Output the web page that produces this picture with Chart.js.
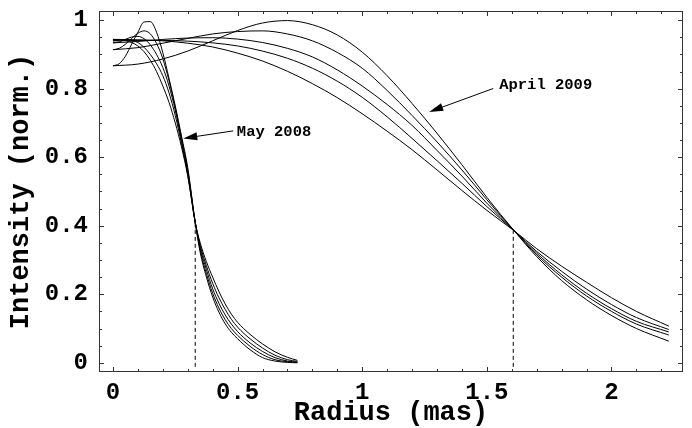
<!DOCTYPE html>
<html>
<head>
<meta charset="utf-8">
<script src="https://cdn.jsdelivr.net/npm/chart.js@4.4.1/dist/chart.umd.min.js"></script>
<style>
    html, body { margin: 0; padding: 0; background: #fff; }
    canvas { display: block; }
</style>
</head>
<body>
<canvas id="profiles" width="692" height="428"></canvas>
<script>
// Radius samples (mas) for the two epochs
const MAY08_R = [0, 0.025, 0.05, 0.075, 0.1, 0.125, 0.15, 0.175, 0.2, 0.225, 0.25, 0.275, 0.3,
    0.33, 0.35, 0.375, 0.4, 0.425, 0.45, 0.475, 0.5, 0.55, 0.6, 0.65, 0.7, 0.74];
const APR09_R = [0, 0.1, 0.2, 0.3, 0.4, 0.5, 0.6, 0.7, 0.8, 0.9, 1.0, 1.1, 1.2, 1.3, 1.4, 1.5,
    1.61, 1.7, 1.8, 1.9, 2.0, 2.1, 2.23];

// May 2008 intensity profiles
const MAY08_1 = [0.867, 0.873, 0.895, 0.930, 0.965, 0.995, 0.996, 0.965, 0.905, 0.830, 0.750, 0.662, 0.570,
    0.410, 0.322, 0.250, 0.192, 0.148, 0.114, 0.089, 0.070, 0.038, 0.015, 0.005, 0.001, 0.000];
const MAY08_2 = [0.914, 0.918, 0.930, 0.947, 0.962, 0.969, 0.960, 0.932, 0.888, 0.823, 0.745, 0.655, 0.562,
    0.410, 0.329, 0.260, 0.203, 0.160, 0.126, 0.100, 0.080, 0.048, 0.024, 0.009, 0.003, 0.001];
const MAY08_3 = [0.934, 0.937, 0.944, 0.951, 0.953, 0.946, 0.928, 0.900, 0.862, 0.808, 0.737, 0.648, 0.556,
    0.410, 0.336, 0.272, 0.216, 0.174, 0.140, 0.113, 0.091, 0.058, 0.033, 0.015, 0.005, 0.002];
const MAY08_4 = [0.940, 0.942, 0.944, 0.942, 0.935, 0.921, 0.900, 0.873, 0.838, 0.788, 0.722, 0.640, 0.550,
    0.410, 0.343, 0.283, 0.232, 0.190, 0.156, 0.127, 0.104, 0.070, 0.043, 0.022, 0.009, 0.004];
const MAY08_5 = [0.944, 0.944, 0.941, 0.935, 0.925, 0.908, 0.883, 0.850, 0.808, 0.760, 0.700, 0.630, 0.545,
    0.410, 0.350, 0.295, 0.250, 0.208, 0.172, 0.142, 0.118, 0.083, 0.055, 0.032, 0.016, 0.007];

// April 2009 intensity profiles
const APR09_1 = [0.867, 0.872, 0.887, 0.910, 0.940, 0.970, 0.992, 0.999, 0.987, 0.957, 0.907, 0.838,
    0.757, 0.670, 0.578, 0.483, 0.385, 0.310, 0.240, 0.184, 0.138, 0.100, 0.063];
const APR09_2 = [0.914, 0.920, 0.933, 0.947, 0.960, 0.967, 0.969, 0.960, 0.940, 0.906, 0.860, 0.795,
    0.722, 0.645, 0.563, 0.476, 0.385, 0.315, 0.250, 0.195, 0.150, 0.113, 0.081];
const APR09_3 = [0.934, 0.938, 0.944, 0.948, 0.949, 0.945, 0.935, 0.918, 0.893, 0.855, 0.808, 0.754,
    0.693, 0.620, 0.545, 0.466, 0.385, 0.320, 0.257, 0.203, 0.158, 0.121, 0.090];
const APR09_4 = [0.940, 0.941, 0.941, 0.939, 0.934, 0.925, 0.910, 0.889, 0.860, 0.822, 0.775, 0.718,
    0.655, 0.590, 0.524, 0.456, 0.385, 0.325, 0.267, 0.215, 0.170, 0.132, 0.097];
const APR09_5 = [0.944, 0.943, 0.940, 0.933, 0.922, 0.904, 0.881, 0.851, 0.815, 0.774, 0.727, 0.676,
    0.622, 0.563, 0.503, 0.445, 0.385, 0.333, 0.282, 0.235, 0.190, 0.150, 0.107];

// Where each family crosses (dashed markers)
const CROSS_R = [0.33, 1.606];
const CROSS_I = [0.41, 0.387];

const X_TICKS = [0, 0.5, 1, 1.5, 2];
const X_TICK_LABELS = ['0', '0.5', '1', '1.5', '2'];
const Y_TICKS = [0, 0.2, 0.4, 0.6, 0.8, 1];
const Y_TICK_LABELS = ['0', '0.2', '0.4', '0.6', '0.8', '1'];

const MONO = '"Liberation Mono", "Courier New", monospace';

function series(xs, ys) {
    return xs.map((x, i) => ({x: x, y: ys[i]}));
}

function curve(xs, ys) {
    return {
        data: series(xs, ys),
        borderColor: '#000',
        borderWidth: 1,
        pointRadius: 0,
        fill: false,
        cubicInterpolationMode: 'monotone'
    };
}

function marker(i) {
    return {
        data: [{x: CROSS_R[i], y: -0.012}, {x: CROSS_R[i], y: CROSS_I[i]}],
        borderColor: '#000',
        borderWidth: 1,
        borderDash: [4, 3],
        pointRadius: 0,
        fill: false,
        tension: 0
    };
}

// labels with arrows, in data units
const notes = [
    {text: 'May 2008', tx: 0.497, ty: 0.674, from: [0.4826, 0.677], to: [0.282, 0.655]},
    {text: 'April 2009', tx: 1.5495, ty: 0.8095, from: [1.5255, 0.8007], to: [1.2688, 0.7324]}
];

function arrow(c, x1, y1, x2, y2) {
    const ang = Math.atan2(y2 - y1, x2 - x1);
    const len = 14, half = 4;
    c.beginPath();
    c.moveTo(x1, y1);
    c.lineTo(x2 - Math.cos(ang) * len * 0.8, y2 - Math.sin(ang) * len * 0.8);
    c.stroke();
    c.beginPath();
    c.moveTo(x2, y2);
    c.lineTo(x2 - Math.cos(ang) * len - Math.sin(ang) * half, y2 - Math.sin(ang) * len + Math.cos(ang) * half);
    c.lineTo(x2 - Math.cos(ang) * len + Math.sin(ang) * half, y2 - Math.sin(ang) * len - Math.cos(ang) * half);
    c.closePath();
    c.fill();
}

// frame with inward ticks on all four sides, plus the annotations
const framePlugin = {
    id: 'frame',
    afterDraw(chart) {
        const c = chart.ctx;
        const a = chart.chartArea;
        const xs = chart.scales.x, ys = chart.scales.y;
        c.save();
        c.strokeStyle = '#333';
        c.lineWidth = 1;
        c.strokeRect(a.left + 0.5, a.top + 0.5, a.right - a.left - 1, a.bottom - a.top - 1);

        c.beginPath();
        for (let k = 0; k <= 22; k++) {
            const v = k / 10;
            const px = Math.round(xs.getPixelForValue(v)) + 0.5;
            const len = k % 5 === 0 ? 5 : 3;
            c.moveTo(px, a.bottom); c.lineTo(px, a.bottom - len);
            c.moveTo(px, a.top); c.lineTo(px, a.top + len);
        }
        for (let k = 0; k <= 20; k++) {
            const v = k / 20;
            const py = Math.round(ys.getPixelForValue(v)) + 0.5;
            const len = k % 4 === 0 ? 5 : 3;
            c.moveTo(a.left, py); c.lineTo(a.left + len, py);
            c.moveTo(a.right, py); c.lineTo(a.right - len, py);
        }
        c.stroke();

        c.strokeStyle = '#000';
        c.fillStyle = '#000';
        c.lineWidth = 1;
        c.font = 'bold 15.5px ' + MONO;
        c.textBaseline = 'middle';
        c.textAlign = 'left';
        for (const n of notes) {
            c.fillText(n.text, xs.getPixelForValue(n.tx), ys.getPixelForValue(n.ty));
            arrow(c, xs.getPixelForValue(n.from[0]), ys.getPixelForValue(n.from[1]),
                xs.getPixelForValue(n.to[0]), ys.getPixelForValue(n.to[1]));
        }
        c.restore();
    }
};

const tickFont = {family: MONO, size: 24, weight: 'bold'};
const titleFont = {family: MONO, size: 27, weight: 'bold', lineHeight: 1.1};

new Chart(document.getElementById('profiles').getContext('2d'), {
    type: 'line',
    data: {
        datasets: [
            curve(MAY08_R, MAY08_1), curve(MAY08_R, MAY08_2), curve(MAY08_R, MAY08_3),
            curve(MAY08_R, MAY08_4), curve(MAY08_R, MAY08_5),
            curve(APR09_R, APR09_1), curve(APR09_R, APR09_2), curve(APR09_R, APR09_3),
            curve(APR09_R, APR09_4), curve(APR09_R, APR09_5),
            marker(0), marker(1)
        ]
    },
    options: {
        responsive: false,
        animation: false,
        devicePixelRatio: 1,
        layout: {padding: {top: 11, right: 9, left: 0, bottom: 0}},
        plugins: {legend: {display: false}, tooltip: {enabled: false}},
        scales: {
            x: {
                type: 'linear',
                min: -0.056,
                max: 2.287,
                grid: {display: false, drawTicks: false},
                border: {display: false},
                afterBuildTicks: s => { s.ticks = X_TICKS.map(v => ({value: v})); },
                afterFit: s => {
                    s.height = 56;
                    s.paddingLeft = 0;
                    s.paddingRight = 0;
                },
                ticks: {
                    font: tickFont, color: '#000', padding: 7, maxRotation: 0, autoSkip: false,
                    callback: v => X_TICK_LABELS[X_TICKS.indexOf(v)]
                },
                title: {display: true, text: 'Radius (mas)', font: titleFont, color: '#000', padding: 0}
            },
            y: {
                type: 'linear',
                min: -0.027,
                max: 1.027,
                grid: {display: false, drawTicks: false},
                border: {display: false},
                afterBuildTicks: s => { s.ticks = Y_TICKS.map(v => ({value: v})); },
                afterFit: s => {
                    s.width = 99;
                    s.paddingTop = 0;
                    s.paddingBottom = 0;
                },
                ticks: {
                    font: tickFont, color: '#000', padding: 11, autoSkip: false,
                    callback: v => Y_TICK_LABELS[Y_TICKS.indexOf(v)]
                },
                title: {display: true, text: 'Intensity (norm.)', font: titleFont, color: '#000', padding: {top: 6, bottom: 0}}
            }
        }
    },
    plugins: [framePlugin]
});
</script>
</body>
</html>
